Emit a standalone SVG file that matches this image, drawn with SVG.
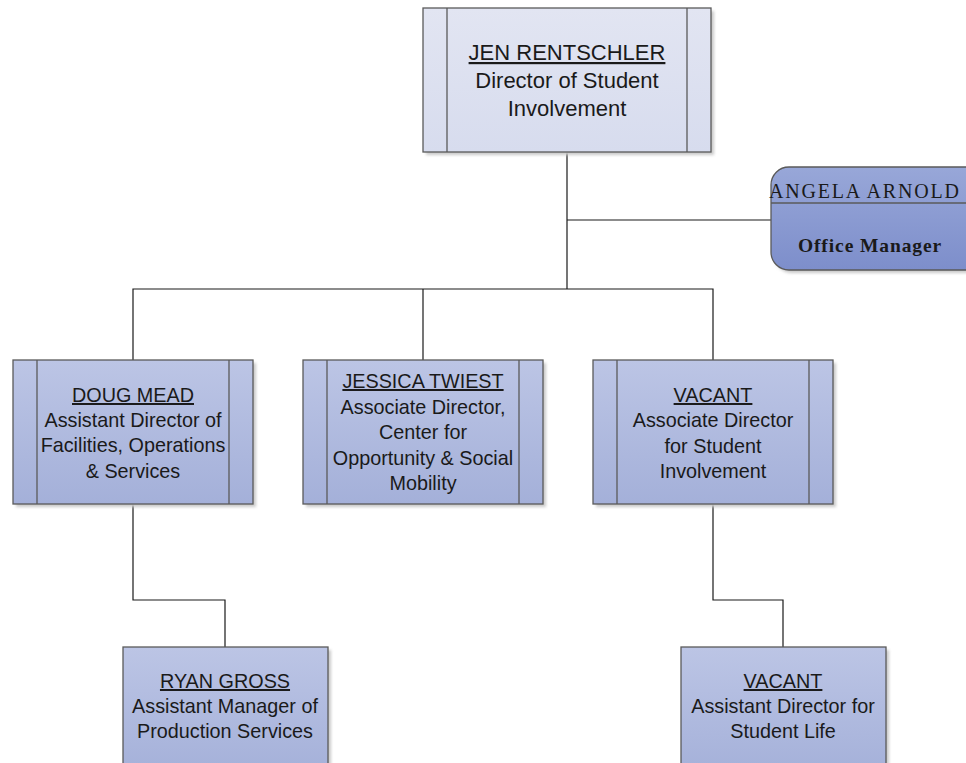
<svg xmlns="http://www.w3.org/2000/svg" width="966" height="763" viewBox="0 0 966 763">
<style>
.box{stroke:#5a5a5a;stroke-width:1.3}
.inner{stroke:#5a5a5a;stroke-width:1.3}
.shadow{fill:#c9c9c9;filter:url(#blur)}
.t{font-family:"Liberation Sans",Arial,sans-serif;font-size:19.8px;fill:#1a1a1a;text-anchor:middle}
.big{font-size:22px}
.u{text-decoration:underline}
.s{font-family:"Liberation Serif","Times New Roman",serif;fill:#1a1a1a}
.c{stroke:#1a1a1a;stroke-width:1.2;fill:none}
</style>
<defs>
<filter id="blur" x="-10%" y="-10%" width="120%" height="120%"><feGaussianBlur stdDeviation="1.5"/></filter>
<linearGradient id="g1" x1="0" y1="0" x2="0" y2="1"><stop offset="0" stop-color="#e2e5f2"/><stop offset="1" stop-color="#d7dcee"/></linearGradient>
<linearGradient id="g2" x1="0" y1="0" x2="0" y2="1"><stop offset="0" stop-color="#bcc5e5"/><stop offset="1" stop-color="#a4b0d9"/></linearGradient>
<linearGradient id="g3" x1="0" y1="0" x2="0" y2="1"><stop offset="0" stop-color="#98a7d8"/><stop offset="1" stop-color="#7d8ecb"/></linearGradient>
</defs>
<rect width="966" height="763" fill="#ffffff"/>
<g id="connectors">
<path class="c" d="M567 152 V289"/>
<path class="c" d="M567 220 H771"/>
<path class="c" d="M133 360 V289 H713 V360"/>
<path class="c" d="M423 289 V360"/>
<path class="c" d="M133 504 V600 H225 V647"/>
<path class="c" d="M713 504 V600 H783 V647"/>
</g>
<g id="node-jen">
<rect class="shadow" x="426" y="11" width="288" height="144"/>
<rect class="box" x="423" y="8" width="288" height="144" fill="url(#g1)"/>
<line class="inner" x1="447" y1="8" x2="447" y2="152"/>
<line class="inner" x1="687" y1="8" x2="687" y2="152"/>
<text class="t big u" x="567" y="60">JEN RENTSCHLER</text>
<text class="t big" x="567" y="88">Director of Student</text>
<text class="t big" x="567" y="116">Involvement</text>
</g>
<g id="node-angela">
<rect class="shadow" x="774" y="170" width="230" height="103" rx="18"/>
<rect class="box" x="771" y="167" width="230" height="103" rx="18" fill="url(#g3)"/>
<line class="inner" x1="771" y1="203" x2="966" y2="203"/>
<text class="s" x="769" y="198" font-size="20" letter-spacing="1.8">ANGELA ARNOLD</text>
<text class="s" x="870" y="252" font-size="19.5" font-weight="bold" text-anchor="middle" letter-spacing="0.9">Office Manager</text>
</g>
<g id="node-doug">
<rect class="shadow" x="16" y="363" width="240" height="144"/>
<rect class="box" x="13" y="360" width="240" height="144" fill="url(#g2)"/>
<line class="inner" x1="37" y1="360" x2="37" y2="504"/>
<line class="inner" x1="229" y1="360" x2="229" y2="504"/>
<text class="t u" x="133" y="402">DOUG MEAD</text>
<text class="t" x="133" y="427">Assistant Director of</text>
<text class="t" x="133" y="452">Facilities, Operations</text>
<text class="t" x="133" y="478">&amp; Services</text>
</g>
<g id="node-jessica">
<rect class="shadow" x="306" y="363" width="240" height="144"/>
<rect class="box" x="303" y="360" width="240" height="144" fill="url(#g2)"/>
<line class="inner" x1="327" y1="360" x2="327" y2="504"/>
<line class="inner" x1="519" y1="360" x2="519" y2="504"/>
<text class="t u" x="423" y="388">JESSICA TWIEST</text>
<text class="t" x="423" y="414">Associate Director,</text>
<text class="t" x="423" y="439">Center for</text>
<text class="t" x="423" y="465">Opportunity &amp; Social</text>
<text class="t" x="423" y="490">Mobility</text>
</g>
<g id="node-vacant1">
<rect class="shadow" x="596" y="363" width="240" height="144"/>
<rect class="box" x="593" y="360" width="240" height="144" fill="url(#g2)"/>
<line class="inner" x1="617" y1="360" x2="617" y2="504"/>
<line class="inner" x1="809" y1="360" x2="809" y2="504"/>
<text class="t u" x="713" y="402">VACANT</text>
<text class="t" x="713" y="427">Associate Director</text>
<text class="t" x="713" y="453">for Student</text>
<text class="t" x="713" y="478">Involvement</text>
</g>
<g id="node-ryan">
<rect class="shadow" x="126" y="650" width="205" height="130"/>
<rect class="box" x="123" y="647" width="205" height="130" fill="url(#g2)"/>
<text class="t u" x="225" y="688">RYAN GROSS</text>
<text class="t" x="225" y="713">Assistant Manager of</text>
<text class="t" x="225" y="738">Production Services</text>
</g>
<g id="node-vacant2">
<rect class="shadow" x="684" y="650" width="205" height="130"/>
<rect class="box" x="681" y="647" width="205" height="130" fill="url(#g2)"/>
<text class="t u" x="783" y="688">VACANT</text>
<text class="t" x="783" y="713">Assistant Director for</text>
<text class="t" x="783" y="738">Student Life</text>
</g>
</svg>
